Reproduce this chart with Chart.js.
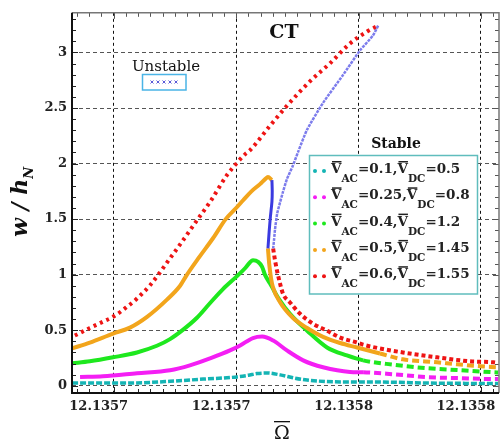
<!DOCTYPE html>
<html>
<head>
<meta charset="utf-8">
<script src="https://cdn.jsdelivr.net/npm/chart.js@4.4.0/dist/chart.umd.min.js"></script>
<style>
  html, body { margin: 0; padding: 0; background: #fff; }
  #wrap { width: 502px; height: 447px; }
</style>
</head>
<body>
<div id="wrap"><canvas id="chart" width="502" height="447"></canvas></div>
<script>
// ============================================
// Frequency response, CT case
// x values are (Omega_bar - OMEGA0) * 1e5
// ============================================
const OMEGA0 = 12.1357;

// Legend text
const vacLabels = ['0.1', '0.25', '0.4', '0.5', '0.6'];
const vdcLabels = ['0.5', '0.8', '1.2', '1.45', '1.55'];
const seriesColors = ['#14b4b4', '#f41ef4', '#1ee81e', '#f2a51c', '#ee1414'];
const unstableColor = '#7c7cec';

// V_AC=0.1, V_DC=0.5
const cyanX = [-3.36, -2.35, -1.24, -0.16, 0.92, 2.03, 2.40, 2.68, 3.01, 3.44, 3.90, 4.32, 5.40, 6.15, 7.13, 8.24, 9.32, 10.40, 10.56];
const cyanY = [0.024, 0.024, 0.026, 0.040, 0.060, 0.080, 0.095, 0.110, 0.115, 0.098, 0.070, 0.051, 0.035, 0.034, 0.032, 0.025, 0.022, 0.020, 0.020];

// V_AC=0.25, V_DC=0.8
const magentaX = [-3.10, -2.35, -1.24, -0.16, 0.49, 1.15, 1.80, 2.13, 2.55, 2.85, 3.21, 3.66, 4.19, 4.84, 5.72, 6.15, 7.13, 8.24, 9.32, 10.40, 10.56];
const magentaY = [0.080, 0.086, 0.113, 0.140, 0.184, 0.247, 0.318, 0.363, 0.430, 0.443, 0.407, 0.318, 0.229, 0.167, 0.125, 0.122, 0.104, 0.078, 0.069, 0.060, 0.060];

// V_AC=0.4, V_DC=1.2
const greenX = [-3.36, -2.78, -2.02, -1.24, -0.59, -0.16, 0.27, 0.72, 1.15, 1.57, 2.03, 2.30, 2.45, 2.55, 2.72, 2.85, 2.94, 3.11, 3.21, 3.40, 3.76, 4.32, 4.97, 5.62, 6.15, 7.13, 8.24, 9.32, 10.40, 10.56];
const greenY = [0.202, 0.220, 0.256, 0.300, 0.360, 0.420, 0.505, 0.612, 0.745, 0.870, 0.987, 1.060, 1.110, 1.130, 1.115, 1.070, 1.000, 0.920, 0.870, 0.780, 0.647, 0.496, 0.345, 0.273, 0.229, 0.190, 0.158, 0.140, 0.122, 0.120];

// V_AC=0.5, V_DC=1.45 : stable upper, unstable, stable lower
const orangeUpX = [-3.36, -2.78, -2.02, -1.47, -0.91, -0.26, 0.17, 0.37, 0.80, 1.25, 1.66, 2.00, 2.23, 2.50, 2.78, 2.95, 3.04, 3.17];
const orangeUpY = [0.336, 0.389, 0.470, 0.523, 0.620, 0.775, 0.900, 0.990, 1.160, 1.330, 1.500, 1.600, 1.670, 1.750, 1.815, 1.860, 1.878, 1.851];
const orangeUnX = [3.17, 3.18, 3.17, 3.12, 3.08, 3.04];
const orangeUnY = [1.851, 1.750, 1.655, 1.520, 1.390, 1.236];
const orangeLoX = [3.04, 3.08, 3.14, 3.20, 3.44, 3.86, 4.32, 4.84, 5.40, 5.95, 6.70, 7.45, 8.57, 9.22, 9.97, 10.53];
const orangeLoY = [1.236, 1.100, 0.970, 0.890, 0.750, 0.610, 0.520, 0.440, 0.385, 0.345, 0.291, 0.238, 0.211, 0.193, 0.176, 0.167];

// V_AC=0.6, V_DC=1.55 : stable upper, unstable, stable lower
const redUpX = [-3.27, -2.78, -2.35, -2.02, -1.57, -1.24, -0.81, -0.49, -0.16, 0.17, 0.76, 1.15, 1.70, 1.96, 2.29, 2.45, 3.11, 3.66, 4.42, 5.07, 5.72, 6.28, 6.64];
const redUpY = [0.452, 0.520, 0.577, 0.621, 0.710, 0.785, 0.905, 1.020, 1.147, 1.272, 1.504, 1.655, 1.896, 1.985, 2.083, 2.119, 2.341, 2.520, 2.742, 2.903, 3.081, 3.188, 3.241];
const redUnX = [6.64, 6.47, 6.05, 5.49, 4.84, 4.32, 4.02, 3.86, 3.66, 3.53, 3.44, 3.34, 3.27, 3.24, 3.21];
const redUnY = [3.241, 3.152, 3.019, 2.796, 2.546, 2.306, 2.101, 1.985, 1.860, 1.744, 1.655, 1.548, 1.405, 1.316, 1.236];
const redLoX = [3.21, 3.27, 3.34, 3.44, 3.53, 3.76, 4.09, 4.51, 4.97, 5.40, 5.95, 6.15, 6.70, 7.45, 8.57, 9.64, 10.40, 10.56];
const redLoY = [1.236, 1.130, 1.031, 0.915, 0.830, 0.750, 0.648, 0.559, 0.496, 0.434, 0.389, 0.370, 0.336, 0.300, 0.256, 0.220, 0.211, 0.205];

// Axes
const X_MIN = -3.363, X_MAX = 10.59;
const Y_MIN = -0.065, Y_MAX = 3.357;
const xTickValues = [];
for (let k = -3; k <= 31; k++) xTickValues.push(Math.round((-2 + 0.4 * k) * 10) / 10);
const yTickValues = [];
for (let k = 0; k <= 33; k++) yTickValues.push(Math.round(k) / 10);

const isMajorX = v => Math.abs((v + 2) / 4 - Math.round((v + 2) / 4)) < 1e-6;
const isMajorY = v => Math.abs(v * 2 - Math.round(v * 2)) < 1e-6;

const toPts = (xs, ys) => xs.map((x, i) => ({ x: x, y: ys[i] }));

const tailDash = ctx => (ctx.p0.parsed.x > 6 ? [7, 4] : undefined);

function curve(xs, ys, color, width, extra) {
    return Object.assign({
        data: toPts(xs, ys),
        borderColor: color,
        backgroundColor: color,
        borderWidth: width,
        showLine: true,
        pointRadius: 0,
        cubicInterpolationMode: 'monotone',
        segment: { borderDash: tailDash }
    }, extra || {});
}

const datasets = [
    curve(redUnX, redUnY, unstableColor, 2.5, { borderDash: [3, 1], segment: {}, cubicInterpolationMode: 'default', tension: 0.2 }),
    curve(orangeUnX, orangeUnY, '#3a3ae0', 3, { segment: {}, cubicInterpolationMode: 'default', tension: 0.2 }),
    curve(redUpX, redUpY, seriesColors[4], 4, { borderDash: [3, 4], segment: {} }),
    curve(redLoX, redLoY, seriesColors[4], 4, { borderDash: [4, 3], segment: {} }),
    curve(orangeUpX, orangeUpY, seriesColors[3], 4),
    curve(orangeLoX, orangeLoY, seriesColors[3], 4),
    curve(greenX, greenY, seriesColors[2], 4),
    curve(magentaX, magentaY, seriesColors[1], 4),
    curve(cyanX, cyanY, seriesColors[0], 3.5, { borderDash: [6, 2], segment: {} })
];

const tickFont = { family: "'DejaVu Serif'", size: 13, weight: 'bold' };

// Frame, inner ticks, titles and legend boxes
const decorPlugin = {
    id: 'decor',
    afterDraw(chart) {
        const ctx = chart.ctx;
        const a = chart.chartArea;
        const xs = chart.scales.x, ys = chart.scales.y;
        ctx.save();

        // inner tick marks
        ctx.lineWidth = 1;
        xTickValues.forEach(v => {
            const px = Math.round(xs.getPixelForValue(v)) + 0.5;
            const len = isMajorX(v) ? 6 : 4;
            ctx.strokeStyle = '#222';
            ctx.beginPath(); ctx.moveTo(px, a.bottom); ctx.lineTo(px, a.bottom - len); ctx.stroke();
            ctx.strokeStyle = '#555';
            ctx.beginPath(); ctx.moveTo(px, a.top); ctx.lineTo(px, a.top + len); ctx.stroke();
        });
        yTickValues.forEach(v => {
            const py = Math.round(ys.getPixelForValue(v)) + 0.5;
            const len = isMajorY(v) ? 6 : 4;
            ctx.strokeStyle = '#222';
            ctx.beginPath(); ctx.moveTo(a.left, py); ctx.lineTo(a.left + len, py); ctx.stroke();
            ctx.strokeStyle = '#555';
            ctx.beginPath(); ctx.moveTo(a.right, py); ctx.lineTo(a.right - len, py); ctx.stroke();
        });

        // frame
        ctx.strokeStyle = '#777';
        ctx.lineWidth = 1.5;
        ctx.beginPath();
        ctx.moveTo(a.left, a.top); ctx.lineTo(a.right, a.top); ctx.lineTo(a.right, a.bottom);
        ctx.stroke();
        ctx.strokeStyle = '#111';
        ctx.lineWidth = 2;
        ctx.beginPath();
        ctx.moveTo(a.left, a.top); ctx.lineTo(a.left, a.bottom); ctx.lineTo(a.right, a.bottom);
        ctx.stroke();

        // CT label
        ctx.fillStyle = '#111';
        ctx.textAlign = 'center';
        ctx.textBaseline = 'alphabetic';
        ctx.font = "bold 19px 'DejaVu Serif'";
        ctx.fillText('CT', 284, 38);

        // Unstable key
        ctx.font = "15px 'DejaVu Serif'";
        ctx.fillText('Unstable', 166, 71);
        ctx.fillStyle = '#fff';
        ctx.fillRect(142.5, 74.5, 43.5, 15.5);
        ctx.strokeStyle = '#4ab4e6';
        ctx.lineWidth = 1.5;
        ctx.strokeRect(142.5, 74.5, 43.5, 15.5);
        ctx.strokeStyle = '#5a5ad8';
        ctx.lineWidth = 1;
        for (let i = 0; i < 5; i++) {
            const cx = 152 + i * 6, cy = 82;
            ctx.beginPath();
            ctx.moveTo(cx - 1.5, cy - 1.5); ctx.lineTo(cx + 1.5, cy + 1.5);
            ctx.moveTo(cx + 1.5, cy - 1.5); ctx.lineTo(cx - 1.5, cy + 1.5);
            ctx.stroke();
        }

        // Stable legend
        ctx.fillStyle = '#111';
        ctx.font = "bold 14px 'DejaVu Serif'";
        ctx.textAlign = 'center';
        ctx.fillText('Stable', 396, 148);
        ctx.fillStyle = '#fff';
        ctx.fillRect(309.5, 155.5, 168, 138.5);
        ctx.strokeStyle = '#5fbdbd';
        ctx.lineWidth = 1.5;
        ctx.strokeRect(309.5, 155.5, 168, 138.5);

        ctx.textAlign = 'left';
        const mainFont = "bold 13.5px 'DejaVu Serif'";
        const subFont = "bold 10.5px 'DejaVu Serif'";
        const drawV = (x, base, sub) => {
            ctx.font = mainFont;
            const w = ctx.measureText('V').width;
            ctx.fillText('V', x, base);
            ctx.fillRect(x + 1, base - 12, w - 1, 1.5);
            x += w;
            ctx.font = subFont;
            ctx.fillText(sub, x, base + 9);
            return x + ctx.measureText(sub).width;
        };
        vacLabels.forEach((vac, i) => {
            const base = 173 + i * 26.3;
            ctx.fillStyle = seriesColors[i];
            [315, 324].forEach(mx => {
                ctx.beginPath(); ctx.arc(mx, base - 2, 2, 0, Math.PI * 2); ctx.fill();
            });
            ctx.fillStyle = '#222';
            let x = drawV(331, base, 'AC');
            ctx.font = mainFont;
            const t1 = '=' + vac + ',';
            ctx.fillText(t1, x, base);
            x += ctx.measureText(t1).width;
            x = drawV(x, base, 'DC');
            ctx.font = mainFont;
            ctx.fillText('=' + vdcLabels[i], x, base);
        });

        // axis titles
        ctx.fillStyle = '#111';
        ctx.font = "19px 'DejaVu Serif'";
        ctx.textAlign = 'center';
        ctx.fillText('\u03A9', 282, 439);
        ctx.fillRect(274, 421, 16, 1.3);

        ctx.translate(27, 202);
        ctx.rotate(-Math.PI / 2);
        ctx.font = "italic bold 22px 'DejaVu Serif'";
        ctx.textAlign = 'left';
        const main = 'w / h';
        const mw = ctx.measureText(main).width;
        ctx.font = "italic bold 13px 'DejaVu Serif'";
        const nw = ctx.measureText('N').width;
        const start = -(mw + nw) / 2;
        ctx.font = "italic bold 22px 'DejaVu Serif'";
        ctx.fillText(main, start, 0);
        ctx.font = "italic bold 13px 'DejaVu Serif'";
        ctx.fillText('N', start + mw, 6);

        ctx.restore();
    }
};

new Chart(document.getElementById('chart').getContext('2d'), {
    type: 'scatter',
    data: { datasets: datasets },
    options: {
        responsive: false,
        animation: false,
        devicePixelRatio: 1,
        layout: { padding: { left: 0, right: 3, top: 9, bottom: 0 } },
        plugins: {
            legend: { display: false },
            tooltip: { enabled: false }
        },
        scales: {
            x: {
                type: 'linear',
                min: X_MIN,
                max: X_MAX,
                afterBuildTicks: s => { s.ticks = xTickValues.map(v => ({ value: v })); },
                afterFit: s => { s.height = 54; },
                border: { display: false, dash: [3, 3] },
                grid: {
                    drawTicks: false,
                    lineWidth: 1,
                    color: c => (c.tick && isMajorX(c.tick.value)) ? '#111' : 'rgba(0,0,0,0)'
                },
                ticks: {
                    autoSkip: false,
                    maxRotation: 0,
                    minRotation: 0,
                    padding: 6,
                    labelOffset: -15,
                    color: '#222',
                    font: tickFont,
                    callback: v => isMajorX(v) ? (OMEGA0 + v * 1e-5).toFixed(4) : ''
                }
            },
            y: {
                type: 'linear',
                min: Y_MIN,
                max: Y_MAX,
                afterBuildTicks: s => { s.ticks = yTickValues.map(v => ({ value: v })); },
                afterFit: s => { s.width = 72; },
                border: { display: false, dash: [4, 3] },
                grid: {
                    drawTicks: false,
                    lineWidth: 1,
                    color: c => (c.tick && isMajorY(c.tick.value)) ? '#555' : 'rgba(0,0,0,0)'
                },
                ticks: {
                    autoSkip: false,
                    padding: 5,
                    color: '#222',
                    font: tickFont,
                    callback: v => isMajorY(v) ? String(+v.toFixed(1)) : ''
                }
            }
        }
    },
    plugins: [decorPlugin]
});
</script>
</body>
</html>
